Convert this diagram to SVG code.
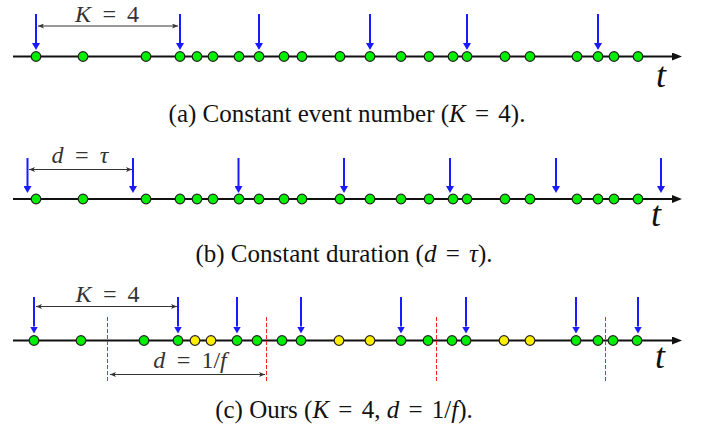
<svg xmlns="http://www.w3.org/2000/svg" width="702" height="429" viewBox="0 0 702 429">
<style>
.ax{stroke:#111;stroke-width:1.8;fill:none}
.ev{stroke:#1a1aff;stroke-width:2;fill:none}
.dm{stroke:#333;stroke-width:1;fill:none}
.cut{stroke:#ff2020;stroke-width:1;stroke-dasharray:4 2;fill:none}
.g{fill:#00ee00;stroke:#222;stroke-width:1.2}
.y{fill:#ffee00;stroke:#222;stroke-width:1.2}
.m{font-family:"Liberation Serif","Times New Roman",serif;font-style:italic;font-size:24px;word-spacing:4px;fill:#333}
.cap{font-family:"Liberation Serif","Times New Roman",serif;font-size:25px;fill:#111}
.t{font-family:"Liberation Serif","Times New Roman",serif;font-style:italic;font-size:36px;fill:#111}
.eq{word-spacing:3px}
</style>
<defs>
<marker id="bh" viewBox="0 0 7 8" refX="0" refY="4" markerWidth="7" markerHeight="8" orient="auto" markerUnits="userSpaceOnUse"><path d="M0,0 L7,4 L0,8 z" fill="#1a1aff"/></marker>
<marker id="ah" viewBox="0 0 10 8" refX="0" refY="4" markerWidth="10" markerHeight="8" orient="auto" markerUnits="userSpaceOnUse"><path d="M0,0 L10,4 L0,8 z" fill="#111"/></marker>
<marker id="dh" viewBox="0 0 6 5" refX="6" refY="2.5" markerWidth="6" markerHeight="5" orient="auto-start-reverse" markerUnits="userSpaceOnUse"><path d="M0,0 L6,2.5 L0,5 L1.5,2.5 z" fill="#333"/></marker>
</defs>

<g id="connectors">
<line class="ax" x1="13" y1="56.5" x2="672" y2="56.5" marker-end="url(#ah)"/>
<line class="ax" x1="13" y1="199" x2="672" y2="199" marker-end="url(#ah)"/>
<line class="ax" x1="13" y1="340.5" x2="672" y2="340.5" marker-end="url(#ah)"/>
<g marker-end="url(#bh)">
<line class="ev" x1="36" y1="14" x2="36" y2="43"/>
<line class="ev" x1="180" y1="14" x2="180" y2="43"/>
<line class="ev" x1="259" y1="14" x2="259" y2="43"/>
<line class="ev" x1="370" y1="14" x2="370" y2="43"/>
<line class="ev" x1="467" y1="14" x2="467" y2="43"/>
<line class="ev" x1="598" y1="14" x2="598" y2="43"/>
</g>
<g marker-end="url(#bh)">
<line class="ev" x1="27.5" y1="158" x2="27.5" y2="186"/>
<line class="ev" x1="133" y1="158" x2="133" y2="186"/>
<line class="ev" x1="238.5" y1="158" x2="238.5" y2="186"/>
<line class="ev" x1="344" y1="158" x2="344" y2="186"/>
<line class="ev" x1="450" y1="158" x2="450" y2="186"/>
<line class="ev" x1="556" y1="158" x2="556" y2="186"/>
<line class="ev" x1="661" y1="158" x2="661" y2="186"/>
</g>
<g marker-end="url(#bh)">
<line class="ev" x1="34" y1="297" x2="34" y2="326.5"/>
<line class="ev" x1="178" y1="297" x2="178" y2="326.5"/>
<line class="ev" x1="237" y1="297" x2="237" y2="326.5"/>
<line class="ev" x1="301" y1="297" x2="301" y2="326.5"/>
<line class="ev" x1="401" y1="297" x2="401" y2="326.5"/>
<line class="ev" x1="466" y1="297" x2="466" y2="326.5"/>
<line class="ev" x1="576" y1="297" x2="576" y2="326.5"/>
<line class="ev" x1="638" y1="297" x2="638" y2="326.5"/>
</g>
<line class="dm" x1="38" y1="26" x2="178" y2="26" marker-start="url(#dh)" marker-end="url(#dh)"/>
<line class="dm" x1="29" y1="169.5" x2="132" y2="169.5" marker-start="url(#dh)" marker-end="url(#dh)"/>
<line class="dm" x1="36" y1="306.5" x2="177" y2="306.5" marker-start="url(#dh)" marker-end="url(#dh)"/>
<line class="dm" x1="110" y1="374.5" x2="265" y2="374.5" marker-start="url(#dh)" marker-end="url(#dh)"/>
<line class="cut" x1="107.5" y1="317" x2="107.5" y2="383"/>
<line class="cut" x1="266.5" y1="317" x2="266.5" y2="383"/>
<line class="cut" x1="436.5" y1="317" x2="436.5" y2="383"/>
<line class="cut" x1="605.5" y1="317" x2="605.5" y2="383"/>
</g>

<g id="panel-a">
<circle id="a1" class="g" cx="36" cy="56.5" r="4.8"/>
<circle id="a2" class="g" cx="83" cy="56.5" r="4.8"/>
<circle id="a3" class="g" cx="146" cy="56.5" r="4.8"/>
<circle id="a4" class="g" cx="180" cy="56.5" r="4.8"/>
<circle id="a5" class="g" cx="197" cy="56.5" r="4.8"/>
<circle id="a6" class="g" cx="213" cy="56.5" r="4.8"/>
<circle id="a7" class="g" cx="239" cy="56.5" r="4.8"/>
<circle id="a8" class="g" cx="259" cy="56.5" r="4.8"/>
<circle id="a9" class="g" cx="284" cy="56.5" r="4.8"/>
<circle id="a10" class="g" cx="302" cy="56.5" r="4.8"/>
<circle id="a11" class="g" cx="340" cy="56.5" r="4.8"/>
<circle id="a12" class="g" cx="370" cy="56.5" r="4.8"/>
<circle id="a13" class="g" cx="401" cy="56.5" r="4.8"/>
<circle id="a14" class="g" cx="429" cy="56.5" r="4.8"/>
<circle id="a15" class="g" cx="453" cy="56.5" r="4.8"/>
<circle id="a16" class="g" cx="467" cy="56.5" r="4.8"/>
<circle id="a17" class="g" cx="505" cy="56.5" r="4.8"/>
<circle id="a18" class="g" cx="530" cy="56.5" r="4.8"/>
<circle id="a19" class="g" cx="577" cy="56.5" r="4.8"/>
<circle id="a20" class="g" cx="598" cy="56.5" r="4.8"/>
<circle id="a21" class="g" cx="614" cy="56.5" r="4.8"/>
<circle id="a22" class="g" cx="638" cy="56.5" r="4.8"/>
<text class="m" x="107" y="22" text-anchor="middle">K = <tspan font-style="normal">4</tspan></text>
<text class="t" x="656" y="87">t</text>
<text class="cap" x="347" y="122" text-anchor="middle">(a) Constant event number (<tspan font-style="italic">K</tspan><tspan class="eq"> = </tspan>4).</text>
</g>

<g id="panel-b">
<circle id="b1" class="g" cx="36" cy="199" r="4.8"/>
<circle id="b2" class="g" cx="83" cy="199" r="4.8"/>
<circle id="b3" class="g" cx="146" cy="199" r="4.8"/>
<circle id="b4" class="g" cx="180" cy="199" r="4.8"/>
<circle id="b5" class="g" cx="197" cy="199" r="4.8"/>
<circle id="b6" class="g" cx="213" cy="199" r="4.8"/>
<circle id="b7" class="g" cx="239" cy="199" r="4.8"/>
<circle id="b8" class="g" cx="259" cy="199" r="4.8"/>
<circle id="b9" class="g" cx="284" cy="199" r="4.8"/>
<circle id="b10" class="g" cx="302" cy="199" r="4.8"/>
<circle id="b11" class="g" cx="340" cy="199" r="4.8"/>
<circle id="b12" class="g" cx="370" cy="199" r="4.8"/>
<circle id="b13" class="g" cx="401" cy="199" r="4.8"/>
<circle id="b14" class="g" cx="429" cy="199" r="4.8"/>
<circle id="b15" class="g" cx="453" cy="199" r="4.8"/>
<circle id="b16" class="g" cx="467" cy="199" r="4.8"/>
<circle id="b17" class="g" cx="505" cy="199" r="4.8"/>
<circle id="b18" class="g" cx="530" cy="199" r="4.8"/>
<circle id="b19" class="g" cx="577" cy="199" r="4.8"/>
<circle id="b20" class="g" cx="598" cy="199" r="4.8"/>
<circle id="b21" class="g" cx="614" cy="199" r="4.8"/>
<circle id="b22" class="g" cx="638" cy="199" r="4.8"/>
<text class="m" x="80" y="163" text-anchor="middle">d = τ</text>
<text class="t" x="651" y="226">t</text>
<text class="cap" x="344" y="262" text-anchor="middle">(b) Constant duration (<tspan font-style="italic">d</tspan><tspan class="eq"> = </tspan><tspan font-style="italic">τ</tspan>).</text>
</g>

<g id="panel-c">
<circle id="c1" class="g" cx="34" cy="340.5" r="4.8"/>
<circle id="c2" class="g" cx="81" cy="340.5" r="4.8"/>
<circle id="c3" class="g" cx="144" cy="340.5" r="4.8"/>
<circle id="c4" class="g" cx="178" cy="340.5" r="4.8"/>
<circle id="c5" class="y" cx="195" cy="340.5" r="4.8"/>
<circle id="c6" class="y" cx="211" cy="340.5" r="4.8"/>
<circle id="c7" class="g" cx="237" cy="340.5" r="4.8"/>
<circle id="c8" class="g" cx="257" cy="340.5" r="4.8"/>
<circle id="c9" class="g" cx="282" cy="340.5" r="4.8"/>
<circle id="c10" class="g" cx="301" cy="340.5" r="4.8"/>
<circle id="c11" class="y" cx="339" cy="340.5" r="4.8"/>
<circle id="c12" class="y" cx="370" cy="340.5" r="4.8"/>
<circle id="c13" class="g" cx="401" cy="340.5" r="4.8"/>
<circle id="c14" class="g" cx="428" cy="340.5" r="4.8"/>
<circle id="c15" class="g" cx="452" cy="340.5" r="4.8"/>
<circle id="c16" class="g" cx="466" cy="340.5" r="4.8"/>
<circle id="c17" class="y" cx="504" cy="340.5" r="4.8"/>
<circle id="c18" class="y" cx="530" cy="340.5" r="4.8"/>
<circle id="c19" class="g" cx="576" cy="340.5" r="4.8"/>
<circle id="c20" class="g" cx="598" cy="340.5" r="4.8"/>
<circle id="c21" class="g" cx="613" cy="340.5" r="4.8"/>
<circle id="c22" class="g" cx="637" cy="340.5" r="4.8"/>
<text class="m" x="107.5" y="302" text-anchor="middle">K = <tspan font-style="normal">4</tspan></text>
<text class="m" x="190" y="368" text-anchor="middle">d = <tspan font-style="normal">1/</tspan>f</text>
<text class="t" x="655" y="368">t</text>
<text class="cap" x="344" y="418" text-anchor="middle">(c) Ours (<tspan font-style="italic">K</tspan><tspan class="eq"> = </tspan>4, <tspan font-style="italic">d</tspan><tspan class="eq"> = </tspan>1/<tspan font-style="italic">f</tspan>).</text>
</g>
</svg>
